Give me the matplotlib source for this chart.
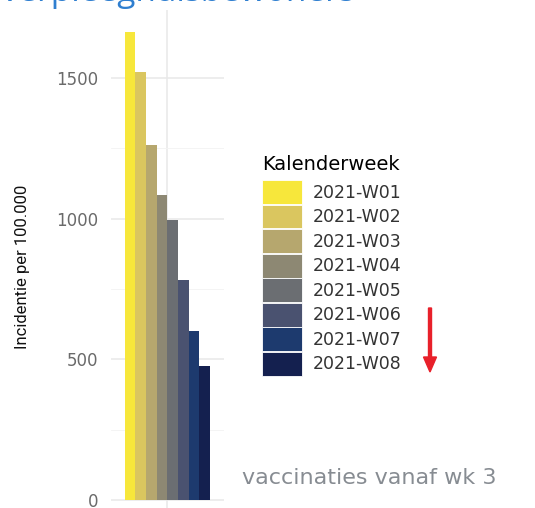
import matplotlib
matplotlib.use("Agg")
import matplotlib.pyplot as plt
from matplotlib.patches import Patch, FancyArrow
import numpy as np

# data
weeks = ["2021-W01", "2021-W02", "2021-W03", "2021-W04",
         "2021-W05", "2021-W06", "2021-W07", "2021-W08"]
incidence = [1664, 1522, 1261, 1083, 995, 781, 601, 477]
colors = ["#F7E73B", "#DAC65F", "#B6A76E", "#8D8873", "#6B6E72",
          "#4A5270", "#1D3A6E", "#14204F"]
yticks = [0, 500, 1000, 1500]

W, H = 535, 508
fig = plt.figure(figsize=(W / 100, H / 100), dpi=100)

# panel placed in pixel terms (ggplot theme_minimal look)
left, right, top = 110.5, 224, 9.5
ax = fig.add_axes([left / W, 0, (right - left) / W, (H - top) / H])

n = len(weeks)
bw = 0.9 / n
xpos = 1 + (np.arange(n) - (n - 1) / 2) * bw
ax.bar(xpos, incidence, width=bw, color=colors, zorder=2)

ax.set_xlim(0.4, 1.6)
ax.set_ylim(-28.5, 1744)
ax.set_yticks(yticks)
ax.set_yticks([250, 750, 1250], minor=True)
ax.set_xticks([1])
ax.set_xticklabels([])
ax.grid(True, which="major", color="#E8E8E8", linewidth=1.1, zorder=0)
ax.grid(True, which="minor", axis="y", color="#F3F3F3", linewidth=0.6, zorder=0)
ax.tick_params(axis="both", which="both", length=0)
ax.tick_params(axis="y", pad=9, labelsize=12, labelcolor="#6A6A6A")
for s in ax.spines.values():
    s.set_visible(False)

fig.text(23 / W, 1 - 267 / H, "Incidentie per 100.000", rotation=90,
         ha="center", va="center", fontsize=12, color="#111111",
         family="Roboto", fontstretch="condensed")

handles = [Patch(facecolor=c, edgecolor="white", linewidth=0.6) for c in colors]
leg = fig.legend(handles, weeks, title="Kalenderweek", loc="upper left",
                 bbox_to_anchor=(262 / W, 1 - 155 / H), frameon=False,
                 fontsize=12.5, title_fontsize=14, alignment="left",
                 handlelength=2.3, handleheight=1.72, labelspacing=0.05,
                 handletextpad=0.65, borderpad=0, borderaxespad=0)
leg._legend_box.sep = 4.5
for t in leg.get_texts():
    t.set_color("#333333")

# red arrow next to the last weeks
fig.patches.append(FancyArrow(
    430 / W, 1 - 308 / H, 0, -(64 / H), width=3 / W,
    head_width=13 / W, head_length=15 / H, length_includes_head=True,
    color="#E8202A", transform=fig.transFigure, figure=fig))

# title cut off at the top of the slide
fig.text(355 / W, 1 - 1.2 / H, "Incidentie verpleeghuisbewoners", ha="right",
         va="baseline", fontsize=24, color="#2F7FD0", family="Open Sans")

fig.text(242 / W, 1 - 484 / H, "vaccinaties vanaf wk 3", ha="left",
         va="baseline", fontsize=16, color="#878C92", family="DejaVu Sans")

fig.savefig("out.png", dpi=100)
